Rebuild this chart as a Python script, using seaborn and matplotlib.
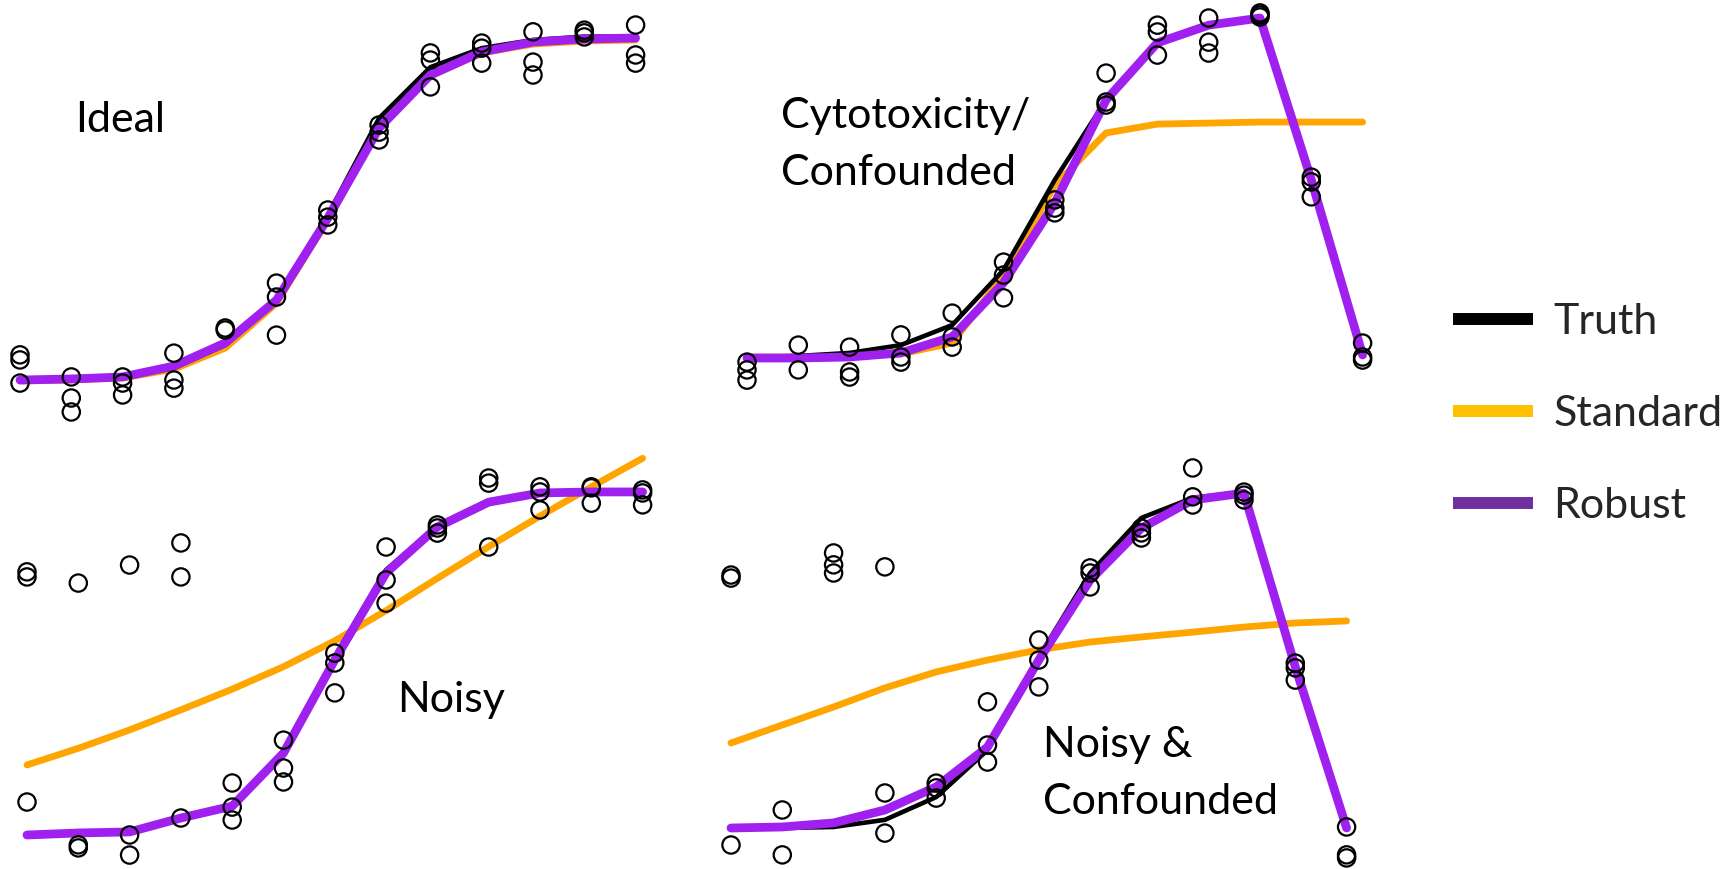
import numpy as np
import pandas as pd
import matplotlib
matplotlib.use("Agg")
import matplotlib.pyplot as plt
import seaborn as sns
from matplotlib.lines import Line2D

sns.set_theme(style="white")
plt.rcParams['font.family'] = ['Lato', 'DejaVu Sans']

# ---------------- data (response in % of max, per dose index) ----------------
dose = list(range(13))
series_names = ["Truth", "Standard", "Robust"]
panel_titles = ["Ideal", "Cytotoxicity/\nConfounded", "Noisy", "Noisy &\nConfounded"]

ideal_obs = [[7.4, 5.9, -0.9], [0.9, -5.3, -9.4], [0.9, -0.9, -4.4], [7.9, 0.0, -2.4],
             [15.3, 14.7], [28.5, 24.4, 13.2], [50.0, 47.9, 45.6], [75.0, 72.9, 70.6],
             [96.2, 94.1, 86.2], [99.1, 97.6, 93.2], [102.4, 93.5, 89.7],
             [102.9, 102.1, 100.9], [104.4, 95.6, 93.2]]
ideal_truth = [0, 0.3, 0.9, 3.5, 10.3, 23.5, 48.5, 77.0, 92.0, 97.6, 100.0, 101.0, 101.0]
ideal_standard = [-0.3, 0, 0.6, 3.2, 9.4, 22.6, 47.1, 74.1, 89.4, 96.2, 98.8, 99.7, 100.0]
ideal_robust = [0, 0.3, 0.9, 4.1, 10.9, 23.5, 47.6, 74.1, 89.7, 96.5, 99.4, 100.3, 100.6]

cyto_obs = [[-1.5, -3.8, -6.8], [3.5, -3.8], [2.9, -4.4, -5.9], [6.5, 0.0, -1.5],
            [12.9, 5.9, 2.9], [27.9, 24.1, 17.4], [46.2, 43.8, 42.4], [83.5, 75.0, 74.1],
            [97.6, 95.6, 88.8], [99.7, 92.6, 89.4], [101.2, 100.6, 100.0],
            [52.9, 51.5, 47.1], [4.1, 0.0, -0.9]]
cyto_truth = [0, 0.3, 1.2, 3.5, 9.4, 25.6, 52.1, 75.6, 92.4, 97.6, 99.7, 52.1, 0.6]
cyto_standard = [0, 0, 0.3, 0.9, 4.1, 24.1, 50.6, 65.9, 68.5, 68.8, 69.1, 69.1, 69.1]
cyto_robust = [-0.3, -0.3, 0, 1.2, 5.9, 21.8, 45.3, 75.6, 92.4, 97.6, 99.7, 52.1, 0.6]

noisy_obs = [[77.4, 75.9, 9.7], [74.1, -2.9, -3.8], [79.4, 0.0, -5.9], [85.9, 75.9, 5.0],
             [15.3, 8.2, 4.4], [27.9, 19.7, 15.6], [53.5, 50.6, 41.8], [84.7, 75.0, 68.2],
             [91.2, 90.3, 88.8], [105.0, 103.5, 84.7], [102.4, 100.9, 95.6],
             [102.4, 102.1, 97.6], [101.5, 100.6, 97.1]]
noisy_truth = [0, 0.6, 0.9, 5.0, 8.5, 24.5, 52.5, 78.0, 91.0, 98.0, 100.6, 101.0, 101.0]
noisy_standard = [20.6, 25.5, 30.9, 36.8, 42.9, 49.5, 57.1, 66.0, 75.5, 84.8, 93.8, 102.4, 110.8]
noisy_robust = [0, 0.6, 0.9, 5.0, 8.5, 24.1, 51.5, 77.1, 90.6, 97.9, 100.6, 100.9, 100.9]

nc_obs = [[74.4, 73.5, -5.0], [5.3, -7.9], [80.9, 77.4, 75.0], [76.8, 10.3, -1.5],
          [13.2, 11.8, 8.8], [37.1, 24.4, 19.4], [55.3, 49.4, 41.5], [76.5, 75.0, 70.9],
          [88.2, 86.8, 85.3], [105.9, 97.4, 95.0], [98.8, 97.9, 96.5],
          [48.5, 47.1, 43.5], [0.3, -7.9, -8.8]]
nc_truth = [0, 0, 0.3, 2.4, 9.1, 22.9, 50.3, 75.0, 91.2, 97.1, 98.8, 48.5, 0]
nc_standard = [25.0, 30.3, 35.6, 41.2, 45.9, 49.4, 52.4, 54.7, 56.2, 57.6, 59.1, 60.3, 60.9]
nc_robust = [0, 0.3, 1.5, 5.3, 12.1, 23.8, 49.4, 72.9, 88.2, 96.5, 98.5, 47.4, 0]

panels = [
    (ideal_obs, ideal_truth, ideal_standard, ideal_robust),
    (cyto_obs, cyto_truth, cyto_standard, cyto_robust),
    (noisy_obs, noisy_truth, noisy_standard, noisy_robust),
    (nc_obs, nc_truth, nc_standard, nc_robust),
]

# ---------------- layout / style ----------------
W, H = 1730, 869
fig = plt.figure(figsize=(W / 100, H / 100), dpi=100)
STEP = 51.3     # px per dose step
SCALE = 3.4     # px per response unit
YLO, YHI = -12, 108
# (first dose x px, zero-response y px)
anchors = [(20, 380), (747, 357), (27, 835), (731, 828)]
# (label left px, first baseline px)
label_pos = [(75, 132), (781, 128), (397, 712), (1043, 757)]
LINE_GAP = 57
FS = 31

line_colors = {"Truth": "black", "Standard": "#FFA500", "Robust": "#A020F0"}
line_widths = {"Truth": 3.3, "Standard": 4.9, "Robust": 6.3}
draw_order = ["Standard", "Truth", "Robust"]

for (obs, truth, std, rob), (x0, base), (lx, ly), title in zip(panels, anchors, label_pos, panel_titles):
    left = x0 - 0.35 * STEP
    width = 12.7 * STEP
    bottom = base - YLO * SCALE
    height = (YHI - YLO) * SCALE
    ax = fig.add_axes([left / W, 1 - bottom / H, width / W, height / H])
    ax.set_xlim(-0.35, 12.35)
    ax.set_ylim(YLO, YHI)
    ax.set_axis_off()

    curves = {"Truth": truth, "Standard": std, "Robust": rob}
    for name in draw_order:
        df = pd.DataFrame({"dose": dose, "resp": curves[name]})
        sns.lineplot(data=df, x="dose", y="resp", ax=ax, color=line_colors[name],
                     lw=line_widths[name], sort=False, estimator=None,
                     solid_capstyle="round", solid_joinstyle="round", clip_on=False)

    pts = pd.DataFrame([(d, v) for d, vals in zip(dose, obs) for v in vals],
                       columns=["dose", "resp"])
    sns.scatterplot(data=pts, x="dose", y="resp", ax=ax, marker="o", s=155,
                    facecolors="none", edgecolor="black", linewidth=1.6,
                    clip_on=False, zorder=5)

    for i, line in enumerate(title.split("\n")):
        fig.text(lx / W, 1 - (ly + i * LINE_GAP) / H, line, fontsize=FS,
                 ha="left", va="baseline", color="black")

# legend
legend_colors = {"Truth": "black", "Standard": "#FFC000", "Robust": "#7030A0"}
handles = [Line2D([0], [0], color=legend_colors[n], lw=8.6, solid_capstyle="butt")
           for n in series_names]
fig.legend(handles, series_names, loc="center left",
           bbox_to_anchor=(1453 / W, 1 - 414 / H), frameon=False,
           fontsize=FS, handlelength=1.86, handletextpad=0.47,
           labelspacing=1.25, borderpad=0, borderaxespad=0)

fig.savefig("out.png", dpi=100, facecolor="white")
